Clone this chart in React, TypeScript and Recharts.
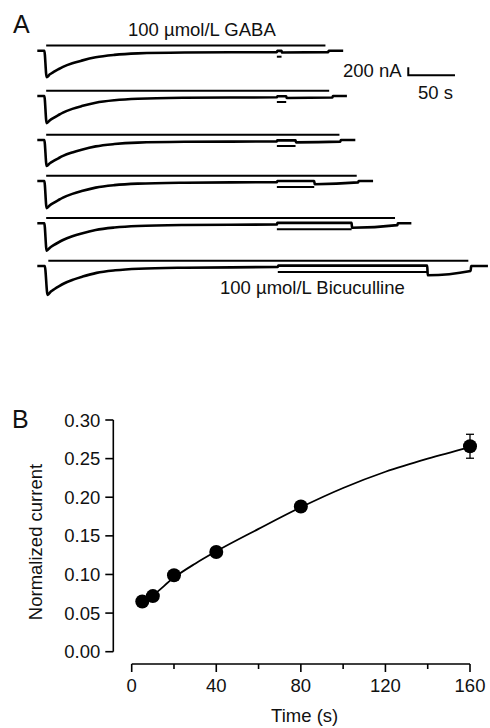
import { LineChart, Line, XAxis, YAxis, ComposedChart, Scatter, ErrorBar, Label } from "recharts";

const FONT = "Arial, 'Liberation Sans', Helvetica, sans-serif";
const INK = "#111";

// ---- Panel A: current traces (time in s from GABA onset, current in nA) ----
const trace1T = [-7.5, 0, 2.5, 6, 10, 15, 20, 30, 40, 55, 75, 100, 150, 249, 249.5, 254, 254.5, 304, 304.5, 320];
const trace1I = [0, 0, -660, -590, -530, -465, -405, -315, -248, -165, -105, -68, -45, -35, -5, -5, -45, -35, 0, 0];

const trace2T = [-7.5, 0, 2.5, 6, 10, 15, 20, 30, 40, 55, 75, 100, 150, 249, 249.5, 259, 259.5, 308.5, 309, 324];
const trace2I = [0, 0, -680, -605, -545, -478, -415, -322, -252, -168, -106, -68, -45, -33, -5, -5, -50, -38, 0, 0];

const trace3T = [-7.5, 0, 2.5, 6, 10, 15, 20, 30, 40, 55, 75, 100, 150, 249, 249.5, 269, 269.5, 317, 317.5, 333];
const trace3I = [0, 0, -650, -580, -522, -458, -398, -310, -242, -160, -102, -66, -45, -35, -10, -10, -60, -40, 0, 0];

const trace4T = [-7.5, 0, 2.5, 6, 10, 15, 20, 30, 40, 55, 75, 100, 150, 249, 249.5, 289, 289.5, 336, 336.5, 352];
const trace4I = [0, 0, -680, -605, -545, -478, -415, -322, -252, -166, -104, -66, -42, -28, 0, 0, -80, -35, 0, 0];

const trace5T = [-7.5, 0, 2.5, 6, 10, 15, 20, 30, 40, 55, 75, 100, 150, 249, 249.5, 329, 329.5, 378, 378.5, 393];
const trace5I = [0, 0, -685, -610, -548, -480, -418, -325, -254, -168, -106, -67, -43, -30, 10, 10, -110, -45, 0, 0];

const trace6T = [-7.5, 0.5, 3.5, 7, 11, 16, 21, 31, 41, 56, 76, 101, 150, 250, 250.5, 410, 410.5, 456.5, 457, 475];
const trace6I = [0, 0, -725, -640, -575, -503, -437, -340, -265, -172, -108, -68, -42, -25, 10, 10, -230, -125, 0, 0];

const gabaStart = [2, 2, 2, 2, 2, 4.3];
const gabaEnd = [301, 305, 316, 334.5, 375.5, 454];
const bicStart = [249, 249, 249, 249, 249, 250];
const bicDuration = [5, 10, 20, 40, 80, 160];

const SCALE_NA = 200;
const SCALE_S = 50;

// ---- Panel B: normalized current vs bicuculline application time ----
const timeB = [5, 10, 20, 40, 80, 160];
const currentB = [0.065, 0.072, 0.099, 0.129, 0.188, 0.266];
const semB = [0.003, 0.003, 0.004, 0.005, 0.004, 0.0155];
const fitT = [5, 10, 20, 30, 40, 60, 80, 100, 120, 140, 160];
const fitY = [0.064, 0.073, 0.096, 0.114, 0.13, 0.159, 0.187, 0.212, 0.233, 0.25, 0.265];
const yTicksB = [0, 0.05, 0.1, 0.15, 0.2, 0.25, 0.3];
const xTicksB = [0, 20, 40, 60, 80, 100, 120, 140, 160];

// layout of panel A
const A_W = 490;
const A_H = 300;
const PX_PER_S = 0.934;
const ORIGIN_PX = 44.3;
const NA_PER_PX = 25;
const traceBaselinePx = [50.7, 96, 140, 181, 223.3, 266];
const GABA_BAR_OFFSET = 130;
const BIC_BAR_OFFSET = -150;
const SCALE_AT_S = 389.7;
const SCALE_AT_PX = 75.3;

const xDomainA = [-ORIGIN_PX / PX_PER_S, (A_W - ORIGIN_PX) / PX_PER_S];
const yDomainA = [-A_H * NA_PER_PX, 0];

const traces = [
  [trace1T, trace1I],
  [trace2T, trace2I],
  [trace3T, trace3I],
  [trace4T, trace4I],
  [trace5T, trace5I],
  [trace6T, trace6I],
];

const base = (k: number) => -traceBaselinePx[k] * NA_PER_PX;

const traceSeries = traces.map(([t, i], k) => t.map((tt, j) => ({ t: tt, v: base(k) + i[j] })));
const gabaSeries = gabaStart.map((s, k) => [
  { t: s, v: base(k) + GABA_BAR_OFFSET },
  { t: gabaEnd[k], v: base(k) + GABA_BAR_OFFSET },
]);
const bicSeries = bicStart.map((s, k) => [
  { t: s, v: base(k) + BIC_BAR_OFFSET },
  { t: s + bicDuration[k], v: base(k) + BIC_BAR_OFFSET },
]);
const scaleBarSeries = [
  { t: SCALE_AT_S, v: -SCALE_AT_PX * NA_PER_PX + SCALE_NA },
  { t: SCALE_AT_S, v: -SCALE_AT_PX * NA_PER_PX },
  { t: SCALE_AT_S + SCALE_S, v: -SCALE_AT_PX * NA_PER_PX },
];

const pointsB = timeB.map((t, k) => ({ t, y: currentB[k], err: semB[k] }));
const fitB = fitT.map((t, k) => ({ t, y: fitY[k] }));

const XTick = (props: any) => {
  const { x, y, payload } = props;
  const major = payload.value % 40 === 0;
  return (
    <g>
      <line x1={x} y1={y} x2={x} y2={y + (major ? 8 : 5)} stroke="#000" strokeWidth={1.6} />
      {major && (
        <text x={x} y={y + 15.3} dy="0.71em" textAnchor="middle" fontSize={18.5} fontFamily={FONT} fill={INK}>
          {payload.value}
        </text>
      )}
    </g>
  );
};

const Marker = (props: any) => <circle cx={props.cx} cy={props.cy} r={7} fill="#000" />;

const textStyle = (left: number, top: number, size: number): React.CSSProperties => ({
  position: "absolute",
  left,
  top,
  fontSize: size,
  lineHeight: 1,
  fontFamily: FONT,
  color: INK,
  whiteSpace: "nowrap",
});

export default function App() {
  return (
    <div style={{ position: "absolute", left: 0, top: 0, width: 490, height: 728, background: "#fff" }}>
      <div style={{ position: "absolute", left: 0, top: 0 }}>
        <LineChart width={A_W} height={A_H} margin={{ top: 0, right: 0, bottom: 0, left: 0 }}>
          <XAxis type="number" dataKey="t" domain={xDomainA} hide allowDataOverflow />
          <YAxis type="number" domain={yDomainA} hide allowDataOverflow />
          {traceSeries.map((d, k) => (
            <Line key={`trace-${k}`} data={d} dataKey="v" type="monotone" stroke="#000" strokeWidth={2.6} dot={false} activeDot={false} isAnimationActive={false} />
          ))}
          {gabaSeries.map((d, k) => (
            <Line key={`gaba-${k}`} data={d} dataKey="v" type="linear" stroke="#000" strokeWidth={2} dot={false} activeDot={false} isAnimationActive={false} />
          ))}
          {bicSeries.map((d, k) => (
            <Line key={`bic-${k}`} data={d} dataKey="v" type="linear" stroke="#000" strokeWidth={2} dot={false} activeDot={false} isAnimationActive={false} />
          ))}
          <Line data={scaleBarSeries} dataKey="v" type="linear" stroke="#000" strokeWidth={2} dot={false} activeDot={false} isAnimationActive={false} />
        </LineChart>
      </div>

      <div style={textStyle(13, 11.8, 25)}>A</div>
      <div style={textStyle(128, 20.9, 18.5)}>100 µmol/L GABA</div>
      <div style={textStyle(343, 61.6, 18.5)}>200 nA</div>
      <div style={textStyle(418, 83.6, 18.5)}>50 s</div>
      <div style={textStyle(220, 278.6, 18.5)}>100 µmol/L Bicuculline</div>

      <div style={textStyle(12, 406.8, 25)}>B</div>
      <div style={{ position: "absolute", left: 0, top: 400 }}>
        <ComposedChart width={490} height={328} margin={{ top: 20, right: 20, bottom: 0, left: 0 }}>
          <XAxis
            type="number"
            dataKey="t"
            domain={[0, 160]}
            ticks={xTicksB}
            interval={0}
            padding={{ left: 18.4, right: 0 }}
            height={64}
            tickLine={false}
            tickSize={0}
            tickMargin={0}
            tick={<XTick />}
            axisLine={{ stroke: "#000", strokeWidth: 1.6, strokeDasharray: "0 18.4 400 100" }}
          >
            <Label value="Time (s)" position="insideBottom" offset={6} dx={13} fontSize={18.5} fontFamily={FONT} fill={INK} />
          </XAxis>
          <YAxis
            type="number"
            dataKey="y"
            domain={[0, 0.3]}
            ticks={yTicksB}
            interval={0}
            padding={{ top: 0, bottom: 12.3 }}
            width={113.3}
            tickSize={8}
            tickMargin={5}
            tickFormatter={(v: number) => v.toFixed(2)}
            tick={{ fill: INK, fontSize: 18.5, fontFamily: FONT }}
            tickLine={{ stroke: "#000", strokeWidth: 1.6 }}
            axisLine={{ stroke: "#000", strokeWidth: 1.6, strokeDasharray: "231.7 100" }}
          >
            <Label
              value="Normalized current"
              angle={-90}
              position="insideLeft"
              offset={35}
              fontSize={18.5}
              fontFamily={FONT}
              fill={INK}
              style={{ textAnchor: "middle" }}
            />
          </YAxis>
          <Line data={fitB} dataKey="y" type="monotone" stroke="#000" strokeWidth={1.8} dot={false} activeDot={false} isAnimationActive={false} />
          <Scatter data={pointsB} dataKey="y" shape={<Marker />} isAnimationActive={false}>
            <ErrorBar dataKey="err" direction="y" width={4} stroke="#000" strokeWidth={1.3} isAnimationActive={false} />
          </Scatter>
        </ComposedChart>
      </div>
    </div>
  );
}
